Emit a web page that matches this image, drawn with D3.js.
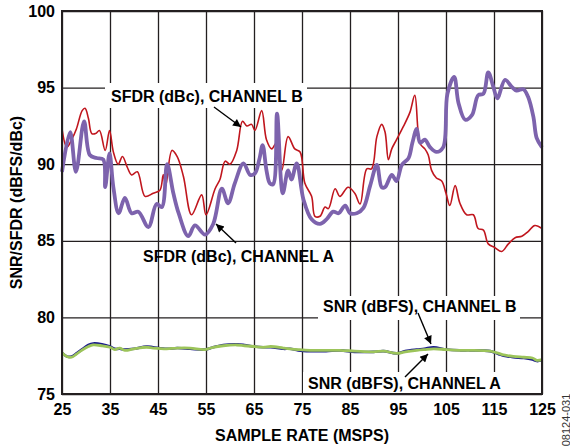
<!DOCTYPE html>
<html><head><meta charset="utf-8">
<script src="https://cdn.jsdelivr.net/npm/d3@7"></script>
<style>body{margin:0;background:#fff}svg{display:block}text{font-family:"Liberation Sans",Arial,Helvetica,sans-serif}</style>
</head><body><svg id="c" width="570" height="448"></svg>
<script>
// ---- data ----
const xTicks = [25, 35, 45, 55, 65, 75, 85, 95, 105, 115, 125];
const yTicks = [75, 80, 85, 90, 95, 100];

const sfdrB_x = [25,26,27,28,29.2,29.8,30.5,31.2,32,32.8,34,34.9,35.7,36.7,37.6,38.6,39.5,40.7,42.3,44,45.4,46.1,46.6,47.9,49,50.3,52,54.1,55,56.9,57.9,59,60,61.4,62.6,63.5,64.5,65.2,66.6,67.6,68.7,69.7,70.8,72.1,73.5,74.6,75.6,77,77.7,78.75,79.8,80.5,81.9,82.9,84.6,86,87.1,88.5,89.5,90.6,91.6,92.3,93,93.7,94.7,96.1,97.5,98.5,99.6,100.6,101.3,102,103,104.1,105,105.8,106.9,107.9,109.3,110.7,111.7,112.8,113.8,115.2,116.6,118,119.4,120.8,122.1,123.5,125];
const sfdrB_y = [92.3,91.1,91.6,92.3,93.5,93.65,93.0,92.0,92.0,92.2,90.9,92.2,90.8,90.0,90.5,89.8,89.3,89.5,87.9,88.1,88.3,89.3,88.6,90.9,90.5,89.2,86.7,88.0,86.7,88.4,89.0,90.2,90.0,90.9,92.8,92.5,92.6,92.2,93.5,91.6,91.0,91.4,89.6,91.8,91.0,90.8,88.75,87.9,86.6,86.6,87.2,87.1,88.4,87.9,88.5,88.1,87.4,89.7,89.7,91.8,92.6,92.1,90.3,91.0,91.6,92.45,93.4,94.5,91.35,91.0,90.6,89.6,89.1,88.9,88.1,87.3,88.6,87.45,86.7,86.7,85.8,85.7,84.8,84.55,84.3,84.8,85.2,85.3,85.6,86.0,85.8];

const sfdrA_x = [25,26.7,27.9,29.6,30.8,32.2,33.6,34,34.9,35.7,36.8,38.1,39.5,40.9,43,44.7,45.8,46.9,48.2,49.3,51.3,52.7,54.8,56.5,58.3,59.6,61,62.8,64.2,65.2,66.1,66.8,67.6,68.3,69,69.8,71,72.1,72.8,73.9,75.3,77,78.75,80.1,81.5,82.6,84,85,86.4,87.8,89.2,90.6,91.6,92.3,93.7,94.7,95.8,97.2,98,98.9,99.6,100.6,101.7,103,104.4,105.3,106.7,107.6,109,110.4,111.7,112.8,113.8,114.9,115.7,117.3,118.7,119.7,121.1,122.1,123.2,123.9,125];
const sfdrA_y = [89.5,92.1,89.5,92.8,90.6,90.4,90.3,88.5,90.7,88.5,86.8,87.8,86.8,86.9,85.9,87.4,87.2,90.0,88.1,86.8,85.3,86.0,85.4,86.1,88.4,87.45,88.75,90.06,89.3,89.4,90.3,91.25,89.6,88.75,88.7,93.3,88.1,89.6,89.0,90.06,87.7,86.4,86.1,86.4,86.9,86.8,87.3,86.8,86.8,87.15,88.6,89.95,88.5,88.5,89.3,88.9,89.95,90.4,91.4,92.3,91.4,91.6,91.1,90.8,91.1,94.6,95.7,94.0,92.9,93.2,94.5,94.6,96.0,95.0,94.3,95.5,95.05,94.8,94.9,94.4,93.1,91.7,91.1];

const snrA_x = [25,26,27,28,29.1,30.5,31.5,33.3,35,36,37,38.1,40,42.6,44,46.8,49,51.7,54.8,56.5,58.6,61.4,63,65,67,68.5,71.1,72.5,74.2,76.7,80,82.9,86,89.9,92,94.7,96.5,98.9,100.5,102.4,105.1,108,110,114.2,116,117,119,121.2,123,123.9,125];
const snrA_y = [77.7,77.45,77.4,77.6,77.85,78.1,78.2,78.15,78.05,77.9,78.0,77.85,77.95,78.05,78.0,77.95,78.0,78.0,77.9,78.05,78.15,78.2,78.15,78.1,78.05,78.1,78.0,77.95,77.9,77.85,77.85,77.85,77.8,77.75,77.8,77.65,77.75,77.85,77.9,77.95,77.9,77.85,77.85,77.8,77.65,77.55,77.45,77.4,77.35,77.2,77.25];
const snrB_x = [25,26,27,28,29.1,30.5,31.5,33.3,35,36,37,38.1,40,42.6,44,46.8,49,51.7,54.8,56.5,58.6,61.4,63,65,67,68.5,71.1,72.5,74.2,76.7,80,82.9,86,89.9,92,94.7,96.5,98.9,100.5,102.4,105.1,108,110,114.2,116,117,119,121.2,123,123.9,125];
const snrB_y = [77.7,77.45,77.45,77.65,77.9,78.2,78.3,78.25,78.1,77.95,77.95,77.9,77.95,78.1,78.05,77.95,78.0,77.95,77.9,78.05,78.2,78.25,78.2,78.1,78.05,78.05,77.95,77.95,77.85,77.8,77.8,77.85,77.75,77.75,77.8,77.65,77.8,77.9,77.95,78.05,77.9,77.85,77.85,77.8,77.6,77.5,77.4,77.35,77.25,77.15,77.2];

const xTitle = "SAMPLE RATE (MSPS)";
const yTitle = "SNR/SFDR (dBFS/dBc)";

// ---- chart ----
const svg = d3.select("#c");
svg.append("rect").attr("width",570).attr("height",448).attr("fill","#fff");
const L=62,R=542,T=11,B=394;
const x = d3.scaleLinear().domain([25,125]).range([L,R]);
const y = d3.scaleLinear().domain([75,100]).range([B,T]);
const ink = "#231f20";

// grid via axes
const gx = svg.append("g").attr("transform",`translate(0,${B})`)
  .call(d3.axisBottom(x).tickValues(xTicks).tickSize(-(B-T)).tickPadding(10).tickFormat(d3.format("d")));
const gy = svg.append("g").attr("transform",`translate(${L},0)`)
  .call(d3.axisLeft(y).tickValues(yTicks).tickSize(-(R-L)).tickPadding(7).tickFormat(d3.format("d")));
[gx,gy].forEach(g=>{
  g.select(".domain").remove();
  g.selectAll("line").attr("stroke",ink).attr("stroke-width",1.3);
  g.selectAll("text").attr("fill","#000").attr("font-size",16).attr("font-weight","bold")
   .style("font-family",'"Liberation Sans",Arial,sans-serif');
});

// white label boxes (cover grid)
const boxes = [[105,83,202,25],[318,296,202,24],[303,372,204,21]];
svg.append("g").selectAll("rect").data(boxes).join("rect")
  .attr("x",d=>d[0]).attr("y",d=>d[1]).attr("width",d=>d[2]).attr("height",d=>d[3]).attr("fill","#fff");

const line = d3.line().x(d=>x(d[0])).y(d=>y(d[1])).curve(d3.curveCatmullRom.alpha(0.5));
const zip=(a,b)=>a.map((v,i)=>[v,b[i]]);
const plot = svg.append("g");
plot.append("path").datum(zip(snrB_x,snrB_y)).attr("d",line).attr("fill","none").attr("stroke","#1a1a8c").attr("stroke-width",2.6);
plot.append("path").datum(zip(snrA_x,snrA_y)).attr("d",line).attr("fill","none").attr("stroke","#9cc45a").attr("stroke-width",2.8);
plot.append("path").datum(zip(sfdrB_x,sfdrB_y)).attr("d",line).attr("fill","none").attr("stroke","#c0161e").attr("stroke-width",1.6);
plot.append("path").datum(zip(sfdrA_x,sfdrA_y)).attr("d",line).attr("fill","none").attr("stroke","#7d63ad").attr("stroke-width",3.8);

// frame
svg.append("rect").attr("x",L).attr("y",T).attr("width",R-L).attr("height",B-T)
  .attr("fill","none").attr("stroke",ink).attr("stroke-width",2);

// labels
const labels = [
  {t:"SFDR (dBc), CHANNEL B", x:111, y:101.5},
  {t:"SFDR (dBc), CHANNEL A", x:143, y:262},
  {t:"SNR (dBFS), CHANNEL B", x:323, y:311.5},
  {t:"SNR (dBFS), CHANNEL A", x:308, y:389}
];
svg.append("g").selectAll("text").data(labels).join("text")
  .attr("x",d=>d.x).attr("y",d=>d.y).text(d=>d.t)
  .attr("font-size",16).attr("font-weight","bold").attr("fill","#000");

// arrows
const defs = svg.append("defs");
defs.append("marker").attr("id","ah").attr("viewBox","0 0 10 10").attr("refX",10).attr("refY",5)
  .attr("markerWidth",11).attr("markerHeight",8).attr("markerUnits","userSpaceOnUse").attr("orient","auto")
  .append("path").attr("d","M0,0 L10,5 L0,10 Z").attr("fill","#000");
const arrows = [[214,107,241,127],[236,243,216,224],[418,313,431,344],[405,377,428,354]];
svg.append("g").selectAll("line").data(arrows).join("line")
  .attr("x1",d=>d[0]).attr("y1",d=>d[1]).attr("x2",d=>d[2]).attr("y2",d=>d[3])
  .attr("stroke","#000").attr("stroke-width",1.4).attr("marker-end","url(#ah)");

// titles
svg.append("text").attr("x",(L+R)/2).attr("y",441).attr("text-anchor","middle")
  .attr("font-size",16).attr("font-weight","bold").text(xTitle);
svg.append("text").attr("transform",`translate(22,${(T+B)/2}) rotate(-90)`).attr("text-anchor","middle")
  .attr("font-size",16).attr("font-weight","bold").text(yTitle);
svg.append("text").attr("transform","translate(569.5,420) rotate(-90)").attr("text-anchor","middle")
  .attr("font-size",11).attr("fill","#333").text("08124-031");
</script></body></html>
